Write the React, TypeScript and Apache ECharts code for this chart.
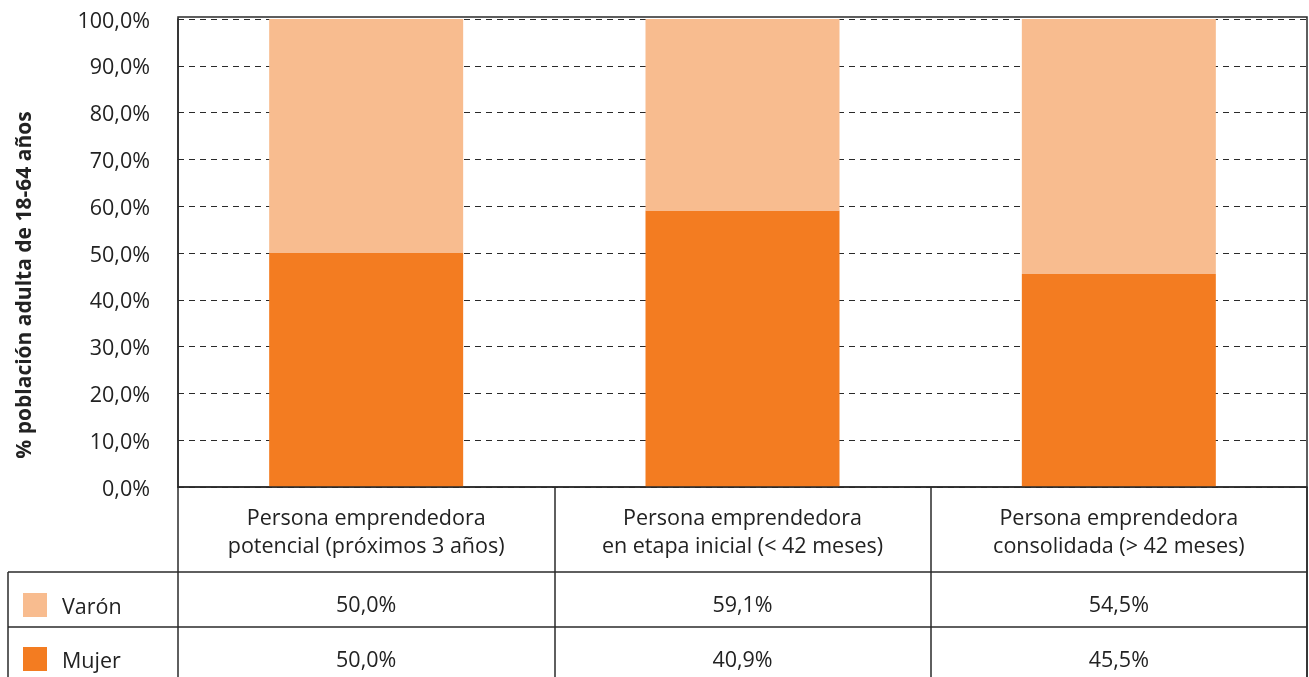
import React, { useEffect, useRef } from "react";
import * as echarts from "echarts";

const categories = [
  "Persona emprendedora\npotencial (próximos 3 años)",
  "Persona emprendedora\nen etapa inicial (< 42 meses)",
  "Persona emprendedora\nconsolidada (> 42 meses)",
];
// values shown in the data table
const varonTable = [50.0, 59.1, 54.5];
const mujerTable = [50.0, 40.9, 45.5];
// segment heights as plotted in the source chart
const mujerBar = [50.0, 59.1, 45.5];
const varonBar = [50.0, 40.9, 54.5];
const yMin = 0;
const yMax = 100;
const yStep = 10;

const FONT = "'Open Sans', 'Noto Sans', sans-serif";
const FS = 21.5;
const TXT = "#222";
const DARK = "#F37C21";
const LIGHT = "#F8BC8F";
const LINE = "#2a2a2a";

const fmt = (v: number) => v.toFixed(1).replace(".", ",") + "%";

export default function App() {
  const ref = useRef<HTMLDivElement>(null);
  useEffect(() => {
    document.body.style.margin = "0";
    const chart = echarts.init(ref.current!, null, { renderer: "svg" });
    const G = { left: 178, right: 2, top: 17, bottom: 190 };
    const W = 1309;
    const H = 677;
    const gx0 = G.left;
    const gx1 = W - G.right;
    const gy0 = G.top;
    const gy1 = H - G.bottom;
    chart.setOption({
      animation: false,
      textStyle: { fontFamily: FONT },
      grid: { left: G.left, right: G.right, top: G.top, bottom: G.bottom, containLabel: false },
      legend: {
        data: ["Varón", "Mujer"],
        orient: "vertical",
        left: 18,
        top: 588,
        itemWidth: 24,
        itemHeight: 24,
        itemGap: 30,
        icon: "rect",
        selectedMode: false,
        textStyle: { fontSize: FS, color: TXT, fontFamily: FONT, padding: [0, 0, 0, 10] },
      },
      xAxis: {
        type: "category",
        data: categories,
        axisLine: { show: true, lineStyle: { color: LINE, width: 1.5 } },
        axisTick: { show: true, length: 190, interval: 0, lineStyle: { color: LINE, width: 1.5 } },
        axisLabel: {
          interval: 0,
          margin: 15,
          fontSize: FS,
          lineHeight: 28,
          color: TXT,
          fontFamily: FONT,
        },
      },
      yAxis: {
        type: "value",
        min: yMin,
        max: yMax,
        interval: yStep,
        axisLine: { show: true, lineStyle: { color: LINE, width: 1.5 } },
        axisTick: { show: false },
        axisLabel: {
          formatter: (v: number) => fmt(v),
          fontSize: FS,
          color: TXT,
          fontFamily: FONT,
          margin: 28,
          lineHeight: 30,
          padding: [8, 0, 0, 0],
        },
        splitLine: { show: true, lineStyle: { color: LINE, width: 1, type: [6, 5] } },
      },
      series: [
        {
          name: "Mujer",
          type: "bar",
          stack: "total",
          data: mujerBar,
          barWidth: 194,
          itemStyle: { color: DARK },
        },
        {
          name: "Varón",
          type: "bar",
          stack: "total",
          data: varonBar,
          barWidth: 194,
          itemStyle: { color: LIGHT },
        },
      ],
    });

    const row1 = 572;
    const row2 = 627;
    const texts: any[] = [];
    categories.forEach((_, i) => {
      const cx = chart.convertToPixel({ xAxisIndex: 0 }, i) as number;
      texts.push({
        type: "text",
        x: cx,
        y: 603,
        style: { text: fmt(varonTable[i]), fontSize: FS, fill: TXT, fontFamily: FONT, align: "center", verticalAlign: "middle" },
      });
      texts.push({
        type: "text",
        x: cx,
        y: 658,
        style: { text: fmt(mujerTable[i]), fontSize: FS, fill: TXT, fontFamily: FONT, align: "center", verticalAlign: "middle" },
      });
    });

    chart.setOption({
      graphic: [
        {
          type: "rect",
          z: 100,
          shape: { x: gx0, y: gy0, width: gx1 - gx0, height: gy1 - gy0 },
          style: { fill: "none", stroke: LINE, lineWidth: 1.5 },
        },
        { type: "line", z: 100, shape: { x1: 8, y1: row1, x2: gx1, y2: row1 }, style: { stroke: LINE, lineWidth: 1.5 } },
        { type: "line", z: 100, shape: { x1: 8, y1: row2, x2: gx1, y2: row2 }, style: { stroke: LINE, lineWidth: 1.5 } },
        { type: "line", z: 100, shape: { x1: 8, y1: row1, x2: 8, y2: H }, style: { stroke: LINE, lineWidth: 1.5 } },
        { type: "line", z: 100, shape: { x1: gx1, y1: gy1, x2: gx1, y2: H }, style: { stroke: LINE, lineWidth: 1.5 } },
        {
          type: "text",
          x: 23,
          y: 285,
          rotation: Math.PI / 2,
          style: {
            text: "% población adulta de 18-64 años",
            fontSize: 21,
            fontWeight: "bold",
            fill: TXT,
            fontFamily: FONT,
            align: "center",
            verticalAlign: "middle",
          },
        },
        ...texts,
      ],
    });
    return () => chart.dispose();
  }, []);
  return <div ref={ref} style={{ position: "fixed", left: 0, top: 0, width: 1309, height: 677 }} />;
}
